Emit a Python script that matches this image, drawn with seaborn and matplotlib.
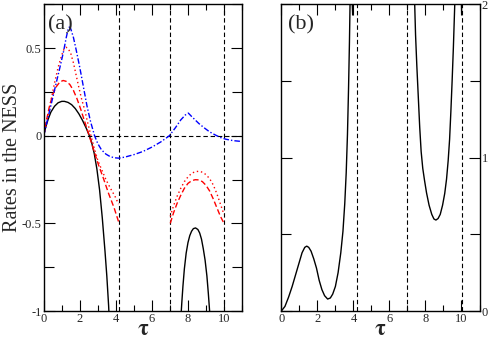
import numpy as np
import pandas as pd
import matplotlib
matplotlib.use("Agg")
import matplotlib.pyplot as plt
import seaborn as sns
from matplotlib.ticker import MultipleLocator

# ---- data ----
# panel (a), first branch (tau < 4.2)
blk1_x = [0.0, 0.1, 0.25, 0.4, 0.6, 0.8, 1.0, 1.15, 1.35, 1.55, 1.75, 1.95, 2.15, 2.35, 2.5,
          2.65, 2.8, 2.95, 3.1, 3.25, 3.4, 3.5, 3.6, 3.65]
blk1_y = [0.0, 0.045, 0.095, 0.135, 0.168, 0.188, 0.196, 0.196, 0.19, 0.177, 0.155, 0.125, 0.088, 0.045, 0.008,
          -0.035, -0.1, -0.19, -0.31, -0.47, -0.66, -0.8, -0.97, -1.08]

dsh1_x = [0.0, 0.15, 0.3, 0.5, 0.7, 0.9, 1.08, 1.25, 1.45, 1.65, 1.85, 2.05, 2.25, 2.45, 2.6,
          2.8, 3.05, 3.3, 3.6, 3.9, 4.15]
dsh1_y = [0.0, 0.085, 0.16, 0.235, 0.28, 0.307, 0.315, 0.31, 0.292, 0.258, 0.21, 0.152, 0.088, 0.025, -0.025,
          -0.09, -0.17, -0.24, -0.33, -0.41, -0.49]

dot1_x = [0.0, 0.2, 0.4, 0.6, 0.8, 1.0, 1.12, 1.23, 1.35, 1.5, 1.65, 1.8, 1.95, 2.1, 2.27, 2.45,
          2.62, 2.8, 3.0, 3.2, 3.45, 3.7, 3.95, 4.15]
dot1_y = [0.0, 0.1, 0.2, 0.3, 0.39, 0.46, 0.492, 0.505, 0.498, 0.47, 0.415, 0.345, 0.275, 0.21, 0.148, 0.07,
          0.0, -0.07, -0.14, -0.19, -0.25, -0.3, -0.345, -0.39]

# blue dash-dot curve, continuous over the whole range
blue_x = [0.0, 0.3, 0.6, 0.9, 1.1, 1.25, 1.35, 1.42, 1.5, 1.65, 1.8, 2.0, 2.2, 2.4, 2.6, 2.82,
          3.0, 3.2, 3.45, 3.7, 3.95, 4.16, 4.5, 5.0, 5.5, 6.0, 6.5, 6.97, 7.3, 7.6, 7.85, 8.02,
          8.2, 8.4, 8.6, 8.9, 9.2, 9.5, 9.8, 10.1, 10.5, 11.0]
blue_y = [0.0, 0.13, 0.26, 0.39, 0.48, 0.56, 0.605, 0.62, 0.61, 0.56, 0.49, 0.39, 0.28, 0.17, 0.08, 0.0,
          -0.045, -0.08, -0.105, -0.12, -0.126, -0.128, -0.122, -0.108, -0.09, -0.065, -0.035, 0.0, 0.045, 0.09, 0.118, 0.129,
          0.11, 0.09, 0.07, 0.045, 0.022, 0.005, -0.01, -0.02, -0.028, -0.033]

# panel (a), second branch (7 < tau < 10)
blk2_x = [7.6, 7.66, 7.72, 7.8, 7.9, 8.0, 8.1, 8.2, 8.3, 8.42, 8.55, 8.65, 8.75, 8.85, 8.95,
          9.05, 9.13, 9.2, 9.24]
blk2_y = [-1.05, -0.95, -0.86, -0.76, -0.67, -0.61, -0.57, -0.545, -0.53, -0.526, -0.535, -0.555, -0.59, -0.645, -0.71,
          -0.8, -0.9, -1.0, -1.05]

dsh2_x = [7.02, 7.2, 7.4, 7.6, 7.8, 8.0, 8.2, 8.4, 8.6, 8.8, 9.0, 9.2, 9.4, 9.6, 9.8, 10.0]
dsh2_y = [-0.5, -0.44, -0.385, -0.34, -0.3, -0.272, -0.257, -0.251, -0.252, -0.262, -0.283, -0.315, -0.36, -0.41, -0.46, -0.5]

dot2_x = [7.02, 7.2, 7.4, 7.6, 7.8, 8.0, 8.2, 8.4, 8.6, 8.8, 9.0, 9.2, 9.4, 9.6, 9.8, 10.0]
dot2_y = [-0.46, -0.4, -0.345, -0.3, -0.262, -0.235, -0.215, -0.205, -0.203, -0.208, -0.222, -0.245, -0.28, -0.33, -0.39, -0.45]

# panel (b)
b1_x = [0.0, 0.2, 0.4, 0.6, 0.8, 1.0, 1.15, 1.3, 1.41, 1.52, 1.65, 1.8, 1.95, 2.1, 2.25, 2.4,
        2.57, 2.72, 2.85, 3.0, 3.15, 3.3, 3.42, 3.52, 3.6, 3.67, 3.73, 3.78, 3.82]
b1_y = [0.0, 0.03, 0.09, 0.16, 0.24, 0.32, 0.38, 0.415, 0.423, 0.415, 0.39, 0.34, 0.28, 0.2, 0.14, 0.1,
        0.078, 0.085, 0.11, 0.16, 0.25, 0.38, 0.52, 0.7, 0.9, 1.15, 1.45, 1.75, 2.05]

b2_x = [3.92, 3.96]
b2_y = [2.05, 1.93]

b3_x = [7.39, 7.45, 7.52, 7.6, 7.68, 7.76, 7.85, 7.95, 8.06, 8.2, 8.35, 8.47, 8.58,
        8.7, 8.82, 8.95, 9.07, 9.17, 9.26, 9.34, 9.41, 9.48, 9.55, 9.64]
b3_y = [2.05, 1.8, 1.6, 1.4, 1.2, 1.04, 0.93, 0.85, 0.77, 0.69, 0.63, 0.6, 0.593,
        0.603, 0.63, 0.69, 0.767, 0.86, 0.98, 1.12, 1.3, 1.5, 1.72, 2.05]

b4_x = [9.99, 10.01]
b4_y = [2.05, 1.94]

# positions of the vertical dashed guide lines
gaps_a = [4.15, 7.0, 10.02]
gaps_b = [4.18, 6.99, 10.05]

sns.set_style("ticks")
plt.rcParams['font.family'] = ['Liberation Serif', 'DejaVu Serif']
plt.rcParams['mathtext.fontset'] = 'stix'

fig = plt.figure(figsize=(4.91, 3.42), dpi=100)
ax_a = fig.add_axes([0.089, 0.0906, 0.404, 0.897])
ax_b = fig.add_axes([0.573, 0.0906, 0.4036, 0.897])


def draw(ax, x, y, color, dashes=None, lw=1.0):
    df = pd.DataFrame({'tau': x, 'rate': y})
    line = sns.lineplot(data=df, x='tau', y='rate', ax=ax, color=color, lw=lw,
                        sort=False, estimator=None)
    if dashes is not None:
        line.get_lines()[-1].set_dashes(dashes)


# panel (a)
for g in gaps_a:
    ax_a.axvline(g, color='black', lw=0.8, dashes=(4, 2.5))
ax_a.axhline(0, color='black', lw=0.8, dashes=(4, 2.5))

draw(ax_a, blk1_x, blk1_y, 'black')
draw(ax_a, blk2_x, blk2_y, 'black')
draw(ax_a, dsh1_x, dsh1_y, 'red', (4, 2))
draw(ax_a, dsh2_x, dsh2_y, 'red', (4, 2))
draw(ax_a, dot1_x, dot1_y, 'red', (1, 2))
draw(ax_a, dot2_x, dot2_y, 'red', (1, 2))
draw(ax_a, blue_x, blue_y, 'blue', (4, 1.5, 1, 1.5))

ax_a.set_xlim(0, 11)
ax_a.set_ylim(-1, 0.75)
ax_a.yaxis.set_minor_locator(MultipleLocator(0.25))
ax_a.set_yticks([-1, -0.5, 0, 0.5])
ax_a.set_yticklabels(['-1', '-0.5', '0', '0.5'])
ax_a.set_ylabel('Rates in the NESS', fontsize=14.5)
ax_a.yaxis.set_label_coords(-0.111, 0.5)
ax_a.text(0.022, 0.965, '(a)', transform=ax_a.transAxes, fontsize=16, va='top', ha='left')

# panel (b)
for g in gaps_b:
    ax_b.axvline(g, color='black', lw=0.8, dashes=(4, 2.5))

draw(ax_b, b1_x, b1_y, 'black')
draw(ax_b, b2_x, b2_y, 'black')
draw(ax_b, b3_x, b3_y, 'black')
draw(ax_b, b4_x, b4_y, 'black')

ax_b.set_xlim(0, 11)
ax_b.set_ylim(0, 2)
ax_b.yaxis.set_major_locator(MultipleLocator(1))
ax_b.yaxis.set_minor_locator(MultipleLocator(0.5))
ax_b.set_ylabel('')
ax_b.text(0.035, 0.965, '(b)', transform=ax_b.transAxes, fontsize=16, va='top', ha='left')

for ax in (ax_a, ax_b):
    ax.xaxis.set_major_locator(MultipleLocator(2))
    ax.xaxis.set_minor_locator(MultipleLocator(1))
    ax.set_xlabel(r'$\mathbf{\tau}$', fontsize=16, labelpad=-3)
    ax.tick_params(which='both', direction='in', top=True, right=True,
                   labelsize=9, pad=1.5, width=0.8, color='black')
    ax.tick_params(which='major', length=8)
    ax.tick_params(axis='x', which='minor', length=4)
    ax.tick_params(axis='y', which='minor', length=7)
    for s in ax.spines.values():
        s.set_linewidth(1.0)
        s.set_color('black')

ax_b.tick_params(axis='y', which='both', labelleft=False, labelright=True)

fig.savefig('out.png', dpi=100)
